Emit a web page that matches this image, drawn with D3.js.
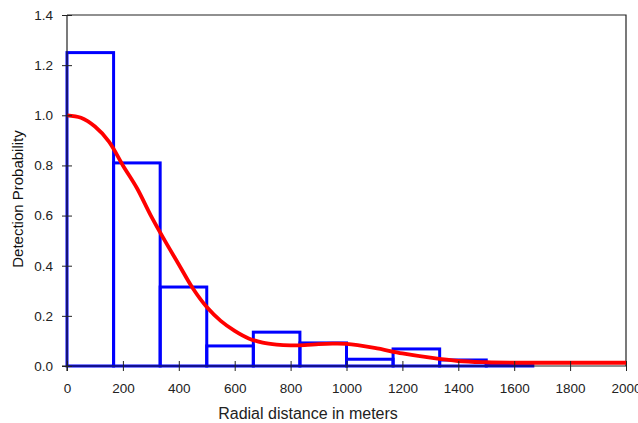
<!DOCTYPE html>
<html>
<head>
<meta charset="utf-8">
<script src="https://cdn.jsdelivr.net/npm/d3@7"></script>
<style>
  body { margin: 0; background: #fff; }
  svg { display: block; }
</style>
</head>
<body>
<div id="chart"></div>
<script>
// histogram bins (edges in meters) and their heights
const binEdges = [0, 166.67, 333.33, 500, 666.67, 833.33, 1000, 1166.67, 1333.33, 1500, 1666.67, 1833.33, 2000]
const binHeights = [1.25, 0.81, 0.315, 0.08, 0.135, 0.092, 0.027, 0.068, 0.024, 0.005, 0.0, 0.0]

// fitted detection curve
const curveX = [0, 50, 100, 150, 200, 250, 300, 350, 400, 450, 500, 550, 600, 650, 700, 750, 800, 850, 900, 950, 1000, 1100, 1200, 1300, 1400, 1500, 1600, 1800, 2000]
const curveY = [1.0, 0.99, 0.955, 0.895, 0.8, 0.71, 0.6, 0.5, 0.405, 0.31, 0.235, 0.18, 0.14, 0.11, 0.093, 0.085, 0.082, 0.083, 0.087, 0.089, 0.088, 0.072, 0.05, 0.033, 0.02, 0.015, 0.013, 0.013, 0.013]

const xTicks = [0, 200, 400, 600, 800, 1000, 1200, 1400, 1600, 1800, 2000]
const yTicks = [0, 0.2, 0.4, 0.6, 0.8, 1.0, 1.2, 1.4]

const width = 638
const height = 423
const margin = {top: 15, right: 12, bottom: 57, left: 67}
const font = "Arial, 'Liberation Sans', sans-serif"

const svg = d3.select("#chart").append("svg")
    .attr("width", width)
    .attr("height", height)

const x = d3.scaleLinear().domain([0, 2000]).range([margin.left, width - margin.right])
const y = d3.scaleLinear().domain([0, 1.4]).range([height - margin.bottom, margin.top])

// frame (top and right)
svg.append("path")
    .attr("d", `M${x(0)},${y(1.4)}H${x(2000)}V${y(0)}`)
    .attr("fill", "none")
    .attr("stroke", "#222")
    .attr("stroke-width", 1.2)

// histogram bars
const bins = binHeights.map((h, i) => ({x0: binEdges[i], x1: binEdges[i + 1], h}))
svg.append("g")
    .attr("fill", "none")
    .attr("stroke", "#0000ff")
    .attr("stroke-width", 3)
    .selectAll("rect")
    .data(bins.filter(d => d.h > 0))
    .join("rect")
    .attr("x", d => x(d.x0))
    .attr("width", d => x(d.x1) - x(d.x0))
    .attr("y", d => y(d.h))
    .attr("height", d => y(0) - y(d.h))

// detection curve
const line = d3.line()
    .x(d => x(d[0]))
    .y(d => y(d[1]))
    .curve(d3.curveCatmullRom)

svg.append("path")
    .datum(d3.zip(curveX, curveY))
    .attr("d", line)
    .attr("fill", "none")
    .attr("stroke", "#ff0000")
    .attr("stroke-width", 3.8)
    .attr("stroke-linejoin", "round")

// axes with crossing ticks
const xAxis = svg.append("g")
    .attr("transform", `translate(0,${y(0)})`)
    .call(d3.axisBottom(x).tickValues(xTicks).tickFormat(d3.format("d")).tickSize(5).tickPadding(12))
xAxis.selectAll(".tick line").attr("y1", -5).attr("stroke", "#222")
xAxis.select(".domain").attr("d", `M${x(0) - 5},0H${x(2000)}`).attr("stroke", "#222").attr("stroke-width", 1.2)

const yAxis = svg.append("g")
    .attr("transform", `translate(${x(0)},0)`)
    .call(d3.axisLeft(y).tickValues(yTicks).tickFormat(d3.format(".1f")).tickSize(5).tickPadding(9))
yAxis.selectAll(".tick line").attr("x1", 5).attr("x2", -5).attr("stroke", "#222")
yAxis.select(".domain").attr("d", `M0,${y(1.4)}V${y(0) + 5}`).attr("stroke", "#222").attr("stroke-width", 1.2)

svg.selectAll(".tick text")
    .attr("font-family", font)
    .attr("font-size", 13.5)
    .attr("fill", "#222")

// axis titles
svg.append("text")
    .attr("x", 308)
    .attr("y", 419)
    .attr("text-anchor", "middle")
    .attr("font-family", font)
    .attr("font-size", 16)
    .attr("fill", "#222")
    .text("Radial distance in meters")

svg.append("text")
    .attr("transform", `translate(23,199) rotate(-90)`)
    .attr("text-anchor", "middle")
    .attr("font-family", font)
    .attr("font-size", 15)
    .attr("fill", "#111")
    .text("Detection Probability")
</script>
</body>
</html>
